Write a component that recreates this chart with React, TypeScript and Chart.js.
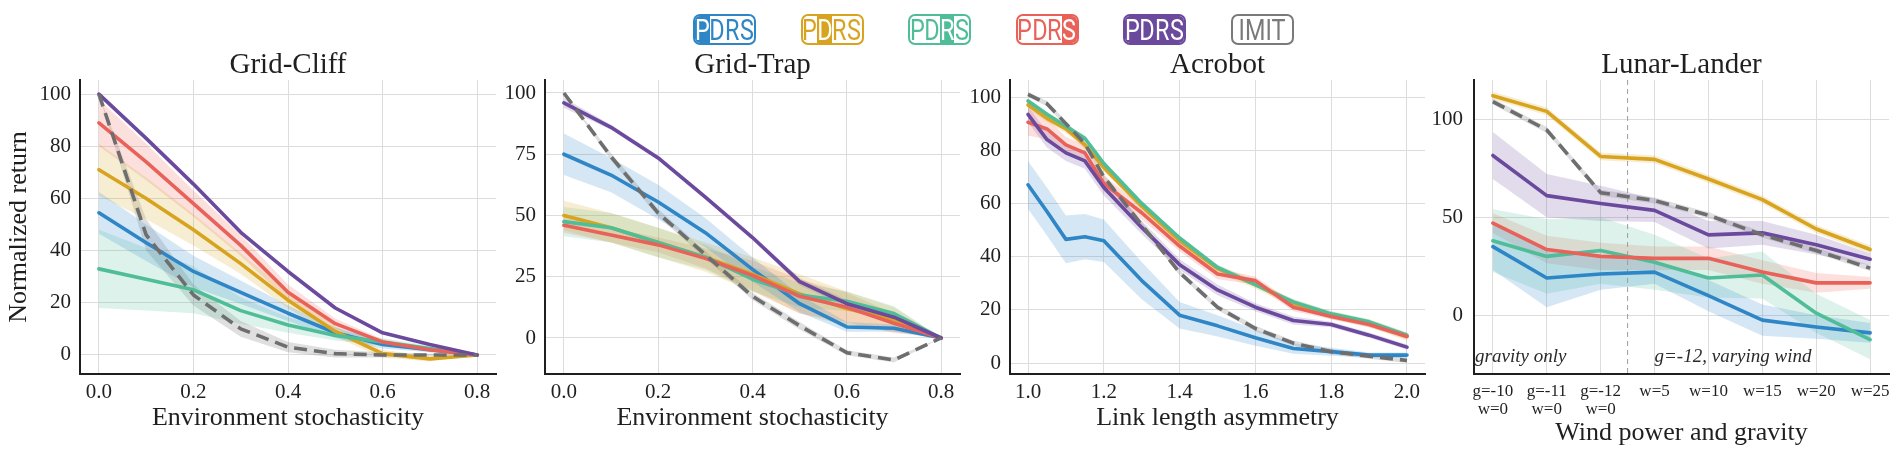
import { useEffect, useRef } from "react"
import { Chart, registerables } from "chart.js"
import type { Plugin } from "chart.js"

Chart.register(...registerables)

const SERIF = "'Liberation Serif', 'Times New Roman', serif"
const INK = "#1f1f1f"
const GRID = "#dcdcdc"

const BLUE = "#2E86C6"
const GOLD = "#D8A31E"
const TEAL = "#4FBE98"
const RED = "#E9625A"
const PURPLE = "#6B4A9E"
const GREY = "#6e6e6e"

// Grid-Cliff / Grid-Trap share the stochasticity sweep
const stochX = [0, 0.1, 0.2, 0.3, 0.4, 0.5, 0.6, 0.7, 0.8]
const stochTicks = [0, 0.2, 0.4, 0.6, 0.8]

const cliffBlue = [54.5, 43, 32, 24, 16, 8.5, 4, 2, 0]
const cliffBlueErr = [8, 7, 6, 4.5, 3, 2, 1.5, 1, 0]
const cliffGold = [71, 60, 48, 35, 21, 9, 0.5, -1.5, 0]
const cliffGoldErr = [10, 8, 6, 4, 3, 2, 1.5, 1, 0]
const cliffTeal = [33, 29, 25, 17, 11.5, 7.5, 5, 2.5, 0]
const cliffTealErr = [15, 12, 9, 5, 3, 2, 1.5, 1, 0]
const cliffRed = [89, 74, 58, 42, 24, 12, 5, 2, 0]
const cliffRedErr = [9, 7, 5, 4, 3, 2, 1, 1, 0]
const cliffPurple = [100, 83, 65.5, 47, 32, 18, 8.5, 4, 0]
const cliffPurpleErr = [0.5, 0.5, 0.5, 0.5, 0.5, 0.5, 0.5, 0.3, 0]
const cliffImit = [100, 46, 23, 10, 3, 0.5, 0, 0, 0]
const cliffImitErr = [0, 6, 4, 3, 2, 1.5, 1, 0.5, 0]
const cliffYTicks = [0, 20, 40, 60, 80, 100]

const trapBlue = [75, 66.5, 55.5, 43, 28, 14, 4.5, 4, 0]
const trapBlueErr = [8.5, 7, 7, 6, 5, 3.5, 2, 1.5, 0]
const trapGold = [50, 45, 39, 33, 26, 18, 12, 7.5, 0]
const trapGoldErr = [6, 6, 6, 6, 7, 8, 7, 5, 0]
const trapTeal = [47.5, 45, 39, 33, 24, 17.5, 15, 10, 0]
const trapTealErr = [6, 6, 6, 5, 5, 5, 4, 3, 0]
const trapRed = [46, 42, 38, 32.5, 25.5, 17, 12.5, 6, 0]
const trapRedErr = [3, 3, 3, 4, 6, 7, 6, 4, 0]
const trapPurple = [96, 86, 73.5, 57.5, 41, 23, 14, 8.5, 0]
const trapPurpleErr = [2, 1, 1, 1, 1, 1.5, 1.5, 1, 0]
const trapImit = [100, 74, 51, 34, 17, 5, -6, -9, 0]
const trapImitErr = [0, 1.5, 1.5, 1.5, 1.5, 1.5, 1, 1, 0]
const trapYTicks = [0, 25, 50, 75, 100]

// Acrobot
const linkX = [1.0, 1.05, 1.1, 1.15, 1.2, 1.3, 1.4, 1.5, 1.6, 1.7, 1.8, 1.9, 2.0]
const linkTicks = [1.0, 1.2, 1.4, 1.6, 1.8, 2.0]
const acroBlue = [67, 57, 46.5, 47.5, 46, 31, 18, 14, 9.5, 5.5, 4.3, 3, 3]
const acroBlueErr = [9, 9, 9, 8.5, 8, 7, 5, 4, 3, 2, 1.5, 1, 1]
const acroGold = [97, 92, 88, 82, 73.5, 59, 46, 35.5, 29.5, 22.5, 18, 15, 10]
const acroGoldErr = [1.5, 1.5, 1.5, 1.5, 1.5, 1.5, 1.5, 1.5, 1.5, 1.5, 1.5, 1.5, 1.5]
const acroTeal = [98.5, 93.5, 89, 84.5, 75, 60, 47, 36, 29.5, 23, 18.5, 15.5, 10.5]
const acroTealErr = [1, 1, 1, 1, 1, 1, 1, 1, 1, 1, 1, 1, 1]
const acroRed = [90.5, 88, 82, 79, 67.5, 56.5, 44, 33.5, 31, 21, 17.5, 14.5, 10]
const acroRedErr = [5, 4, 3, 3, 3, 2.5, 2, 2, 1.5, 1.5, 1, 1, 1]
const acroPurple = [93.5, 84, 79, 76, 66, 51, 37, 27.5, 21, 16, 14.5, 10.5, 6]
const acroPurpleErr = [3, 3, 3, 3, 3, 2.5, 2, 2, 1.5, 1.5, 1, 1, 1]
const acroImit = [101, 97.5, 90, 82.5, 70, 52, 34, 21, 13, 7.5, 4.3, 2.6, 1]
const acroImitErr = [1, 1, 1, 1, 1, 1, 1, 1, 1, 1, 1, 1, 1]
const acroYTicks = [0, 20, 40, 60, 80, 100]

// Lunar-Lander
const windLabels: (string | string[])[] = [
  ["g=-10", "w=0"],
  ["g=-11", "w=0"],
  ["g=-12", "w=0"],
  "w=5",
  "w=10",
  "w=15",
  "w=20",
  "w=25",
]
const windX = [0, 1, 2, 3, 4, 5, 6, 7]
const windSplit = 2.5
const lunarBlue = [35, 19, 21, 22, 10, -2.5, -6, -9]
const lunarBlueErr = [12, 15, 8, 6, 8, 8, 6, 5]
const lunarGold = [112, 104, 81, 79.5, 69.5, 59, 44, 33.5]
const lunarGoldErr = [2, 2, 2, 2, 2, 2, 2, 2]
const lunarTeal = [38, 30, 33, 27, 19, 20.5, 1, -12.5]
const lunarTealErr = [16, 19, 17, 14, 10, 12, 10, 10]
const lunarRed = [47, 33.5, 30, 29, 29, 22, 16.5, 16.5]
const lunarRedErr = [5, 7, 7, 6, 6, 6, 5, 3]
const lunarPurple = [81.5, 61, 57, 53.5, 41, 42, 36, 28.5]
const lunarPurpleErr = [12, 11, 9, 6, 7, 6, 5, 3]
const lunarImit = [109, 94.5, 62.5, 58.5, 51, 41, 33, 24]
const lunarImitErr = [1.5, 1.5, 1.5, 1.5, 1.5, 1.5, 1.5, 1.5]
const lunarYTicks = [0, 50, 100]

const rgba = (hex: string, a: number) => {
  const n = parseInt(hex.slice(1), 16)
  return `rgba(${(n >> 16) & 255},${(n >> 8) & 255},${n & 255},${a})`
}

type Series = { mean: number[]; err: number[]; color: string; dashed?: boolean }

type PanelSpec = {
  left: number
  width: number
  yAxisWidth: number
  rightPad: number
  title: string
  xTitle: string
  yTitle?: string
  xs: number[]
  series: Series[]
  xMin: number
  xMax: number
  xTicks: number[]
  xLabel: (v: number) => string | string[]
  xTickSize: number
  xTickLine: number
  xTickPad: number
  xTitlePad: number
  yMin: number
  yMax: number
  yTicks: number[]
  yTickPad: number
  extra?: Plugin<"line">
}

function Panel({ spec }: { spec: PanelSpec }) {
  const canvasRef = useRef<HTMLCanvasElement>(null)
  const chartRef = useRef<Chart | null>(null)

  useEffect(() => {
    if (!canvasRef.current) return
    const ctx = canvasRef.current.getContext("2d")
    if (!ctx) return

    const datasets: any[] = []
    // shaded bands first (upper fills down to the following lower dataset)
    spec.series.forEach((s) => {
      datasets.push({
        data: spec.xs.map((x, j) => ({ x, y: s.mean[j] + s.err[j] })),
        fill: "+1",
        backgroundColor: rgba(s.color, s.dashed ? 0.22 : 0.2),
        borderWidth: 0,
        pointRadius: 0,
        order: 50,
      })
      datasets.push({
        data: spec.xs.map((x, j) => ({ x, y: s.mean[j] - s.err[j] })),
        fill: false,
        backgroundColor: "transparent",
        borderWidth: 0,
        pointRadius: 0,
        order: 50,
      })
    })
    spec.series.forEach((s, i) => {
      datasets.push({
        data: spec.xs.map((x, j) => ({ x, y: s.mean[j] })),
        borderColor: s.color,
        borderWidth: 3.6,
        borderDash: s.dashed ? [13, 7] : [],
        borderCapStyle: s.dashed ? "butt" : "round",
        borderJoinStyle: "round",
        pointRadius: 0,
        fill: false,
        order: 20 - i,
      })
    })

    if (chartRef.current) chartRef.current.destroy()
    chartRef.current = new Chart(ctx, {
      type: "line",
      data: { datasets },
      options: {
        responsive: true,
        maintainAspectRatio: false,
        animation: false,
        layout: { padding: { left: 0, right: spec.rightPad, top: 0, bottom: 0 } },
        plugins: {
          legend: { display: false },
          tooltip: { enabled: false },
          filler: { drawTime: "beforeDatasetsDraw" },
          title: {
            display: true,
            text: spec.title,
            color: INK,
            fullSize: false,
            font: { family: SERIF, size: 29, weight: "normal", lineHeight: 1 },
            padding: { top: 51, bottom: 0 },
          },
        },
        scales: {
          x: {
            type: "linear",
            min: spec.xMin,
            max: spec.xMax,
            afterBuildTicks: (scale) => {
              scale.ticks = spec.xTicks.map((v) => ({ value: v }))
            },
            afterFit: (scale) => {
              scale.height = 84
            },
            grid: { color: GRID, lineWidth: 1, drawTicks: false },
            border: { color: INK, width: 2 },
            ticks: {
              color: INK,
              padding: spec.xTickPad,
              maxRotation: 0,
              autoSkip: false,
              font: { family: SERIF, size: spec.xTickSize, lineHeight: spec.xTickLine },
              callback: (v) => spec.xLabel(Number(v)),
            },
            title: {
              display: true,
              text: spec.xTitle,
              color: INK,
              font: { family: SERIF, size: 26 },
              padding: { top: 0, bottom: spec.xTitlePad },
            },
          },
          y: {
            type: "linear",
            min: spec.yMin,
            max: spec.yMax,
            afterBuildTicks: (scale) => {
              scale.ticks = spec.yTicks.map((v) => ({ value: v }))
            },
            afterFit: (scale) => {
              scale.width = spec.yAxisWidth
            },
            grid: { color: GRID, lineWidth: 1, drawTicks: false },
            border: { color: INK, width: 2 },
            ticks: {
              color: INK,
              padding: spec.yTickPad,
              font: { family: SERIF, size: 21 },
            },
            title: {
              display: !!spec.yTitle,
              text: spec.yTitle || "",
              color: INK,
              font: { family: SERIF, size: 26 },
              padding: { top: 4, bottom: 0 },
            },
          },
        },
      },
      plugins: spec.extra ? [spec.extra] : [],
    })

    return () => {
      if (chartRef.current) {
        chartRef.current.destroy()
        chartRef.current = null
      }
    }
  }, [spec])

  return (
    <div style={{ position: "absolute", left: spec.left, top: 0, width: spec.width, height: 458 }}>
      <canvas ref={canvasRef}></canvas>
    </div>
  )
}

// dashed divider and the two italic notes in the Lunar-Lander panel
const lunarNotes: Plugin<"line"> = {
  id: "lunarNotes",
  beforeDatasetsDraw(chart) {
    const { ctx, chartArea, scales } = chart
    const x = scales.x.getPixelForValue(windSplit)
    ctx.save()
    ctx.strokeStyle = "#9c9c9c"
    ctx.lineWidth = 1
    ctx.setLineDash([5, 4])
    ctx.beginPath()
    ctx.moveTo(x, chartArea.top)
    ctx.lineTo(x, chartArea.bottom)
    ctx.stroke()
    ctx.restore()
  },
  afterDatasetsDraw(chart) {
    const { ctx, scales } = chart
    const y = scales.y.getPixelForValue(-21.5)
    ctx.save()
    ctx.fillStyle = "#2a2a2a"
    ctx.font = `italic 19px ${SERIF}`
    ctx.textBaseline = "middle"
    ctx.textAlign = "left"
    ctx.fillText("gravity only", scales.x.getPixelForValue(-0.33), y)
    ctx.fillText("g=-12, varying wind", scales.x.getPixelForValue(3), y)
    ctx.restore()
  },
}

const fixed1 = (v: number) => v.toFixed(1)

const panels: PanelSpec[] = [
  {
    left: 0,
    width: 510,
    yAxisWidth: 80,
    rightPad: 14,
    title: "Grid-Cliff",
    xTitle: "Environment stochasticity",
    yTitle: "Normalized return",
    xs: stochX,
    series: [
      { mean: cliffBlue, err: cliffBlueErr, color: BLUE },
      { mean: cliffGold, err: cliffGoldErr, color: GOLD },
      { mean: cliffTeal, err: cliffTealErr, color: TEAL },
      { mean: cliffRed, err: cliffRedErr, color: RED },
      { mean: cliffPurple, err: cliffPurpleErr, color: PURPLE },
      { mean: cliffImit, err: cliffImitErr, color: GREY, dashed: true },
    ],
    xMin: -0.04,
    xMax: 0.84,
    xTicks: stochTicks,
    xLabel: fixed1,
    xTickSize: 21,
    xTickLine: 1.2,
    xTickPad: 6,
    xTitlePad: 24,
    yMin: -7.3,
    yMax: 105.4,
    yTicks: cliffYTicks,
    yTickPad: 9,
  },
  {
    left: 500,
    width: 474,
    yAxisWidth: 45,
    rightPad: 14,
    title: "Grid-Trap",
    xTitle: "Environment stochasticity",
    xs: stochX,
    series: [
      { mean: trapBlue, err: trapBlueErr, color: BLUE },
      { mean: trapGold, err: trapGoldErr, color: GOLD },
      { mean: trapTeal, err: trapTealErr, color: TEAL },
      { mean: trapRed, err: trapRedErr, color: RED },
      { mean: trapPurple, err: trapPurpleErr, color: PURPLE },
      { mean: trapImit, err: trapImitErr, color: GREY, dashed: true },
    ],
    xMin: -0.04,
    xMax: 0.84,
    xTicks: stochTicks,
    xLabel: fixed1,
    xTickSize: 21,
    xTickLine: 1.2,
    xTickPad: 6,
    xTitlePad: 24,
    yMin: -14.7,
    yMax: 105.3,
    yTicks: trapYTicks,
    yTickPad: 9,
  },
  {
    left: 965,
    width: 474,
    yAxisWidth: 45,
    rightPad: 14,
    title: "Acrobot",
    xTitle: "Link length asymmetry",
    xs: linkX,
    series: [
      { mean: acroBlue, err: acroBlueErr, color: BLUE },
      { mean: acroGold, err: acroGoldErr, color: GOLD },
      { mean: acroTeal, err: acroTealErr, color: TEAL },
      { mean: acroRed, err: acroRedErr, color: RED },
      { mean: acroPurple, err: acroPurpleErr, color: PURPLE },
      { mean: acroImit, err: acroImitErr, color: GREY, dashed: true },
    ],
    xMin: 0.9525,
    xMax: 2.0475,
    xTicks: linkTicks,
    xLabel: fixed1,
    xTickSize: 21,
    xTickLine: 1.2,
    xTickPad: 6,
    xTitlePad: 24,
    yMin: -4.1,
    yMax: 106.4,
    yTicks: acroYTicks,
    yTickPad: 9,
  },
  {
    left: 1430,
    width: 470,
    yAxisWidth: 44,
    rightPad: 11,
    title: "Lunar-Lander",
    xTitle: "Wind power and gravity",
    xs: windX,
    series: [
      { mean: lunarBlue, err: lunarBlueErr, color: BLUE },
      { mean: lunarGold, err: lunarGoldErr, color: GOLD },
      { mean: lunarTeal, err: lunarTealErr, color: TEAL },
      { mean: lunarRed, err: lunarRedErr, color: RED },
      { mean: lunarPurple, err: lunarPurpleErr, color: PURPLE },
      { mean: lunarImit, err: lunarImitErr, color: GREY, dashed: true },
    ],
    xMin: -0.35,
    xMax: 7.35,
    xTicks: windX,
    xLabel: (v) => windLabels[Math.round(v)] ?? "",
    xTickSize: 17,
    xTickLine: 1.06,
    xTickPad: 9,
    xTitlePad: 9,
    yMin: -30,
    yMax: 120,
    yTicks: lunarYTicks,
    yTickPad: 11,
    extra: lunarNotes,
  },
]

// legend badges: one highlighted letter per PDRS ablation
const legendItems = [
  { text: "PDRS", color: BLUE, filled: [0] },
  { text: "PDRS", color: GOLD, filled: [1] },
  { text: "PDRS", color: TEAL, filled: [2] },
  { text: "PDRS", color: RED, filled: [3] },
  { text: "PDRS", color: PURPLE, filled: [0, 1, 2, 3] },
  { text: "IMIT", color: "#7a7a7a", filled: [] as number[] },
]

function Badge({ item, left }: { item: (typeof legendItems)[number]; left: number }) {
  const letters = item.text === "IMIT" ? [item.text] : item.text.split("")
  return (
    <div
      style={{
        position: "absolute",
        left,
        top: 14,
        width: 63,
        height: 31,
        boxSizing: "border-box",
        border: `2px solid ${item.color}`,
        borderRadius: 7,
        overflow: "hidden",
        display: "flex",
        justifyContent: "center",
        fontFamily: "Roboto, 'DejaVu Sans', sans-serif",
        fontSize: 30,
        lineHeight: "27px",
        color: item.color,
        background: "#fff",
      }}
    >
      {letters.map((ch, i) => {
        const on = item.filled.includes(i)
        return (
          <span
            key={i}
            style={{
              display: "flex",
              justifyContent: "center",
              width: letters.length === 1 ? 59 : 14.75,
              background: on ? item.color : "transparent",
              color: on ? "#fff" : item.color,
            }}
          >
            <span style={{ display: "inline-block", transform: "scaleX(0.78)" }}>{ch}</span>
          </span>
        )
      })}
    </div>
  )
}

export default function App() {
  return (
    <div
      style={{
        position: "absolute",
        left: 0,
        top: 0,
        width: 1900,
        height: 458,
        background: "#fff",
        overflow: "hidden",
      }}
    >
      {panels.map((p) => (
        <Panel key={p.title} spec={p} />
      ))}
      {legendItems.map((item, i) => (
        <Badge key={i} item={item} left={693 + i * 107.5} />
      ))}
    </div>
  )
}
